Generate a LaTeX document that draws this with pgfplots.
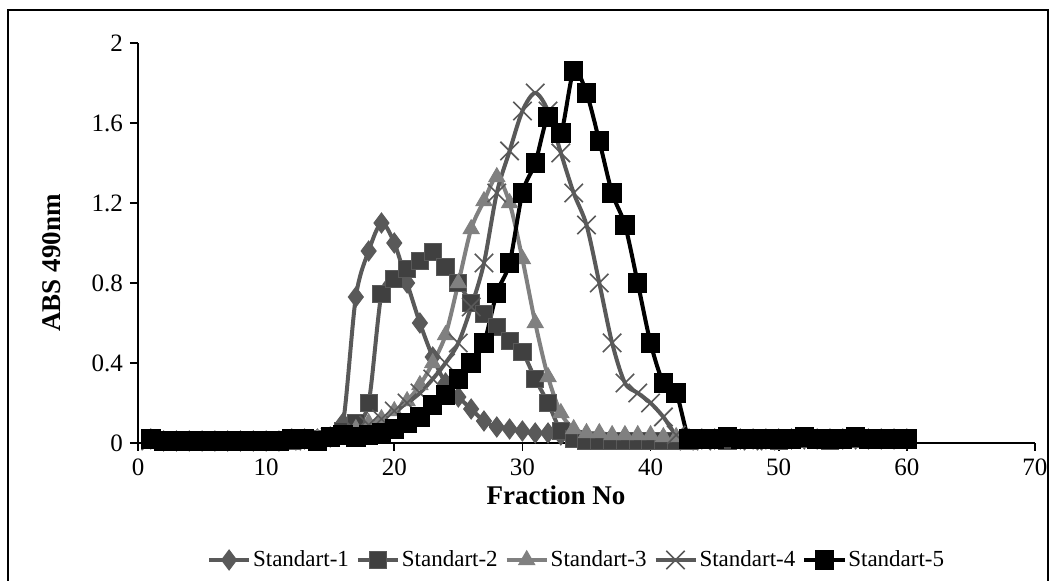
\documentclass[border=0pt]{standalone}
\usepackage{fontspec}
\setmainfont{Liberation Serif}
\usepackage{pgfplots}
\usepackage{pgfplotstable}
\pgfplotsset{compat=1.18}

\definecolor{dgray}{HTML}{595959}
\definecolor{sqgray}{HTML}{404040}
\definecolor{lgray}{HTML}{808080}

% n = fraction number
\pgfplotstableread{
n  s1   s2    s3   s4   s5
1  0.02 0.02  0.01 0.01 0.02
2  0.01 0.01  0.01 0.01 0.01
3  0.01 0.01  0.01 0.01 0.01
4  0.01 0.01  0.01 0.01 0.01
5  0.01 0.01  0.01 0.01 0.01
6  0.01 0.01  0.01 0.01 0.01
7  0.01 0.01  0.01 0.01 0.01
8  0.01 0.01  0.01 0.01 0.01
9  0.01 0.01  0.01 0.01 0.01
10 0.01 0.01  0.01 0.01 0.01
11 0.01 0.01  0.01 0.01 0.01
12 0.02 0.01  0.01 0.01 0.02
13 0.02 0.02  0.01 0.01 0.02
14 0.02 0.02  0.02 0.02 0.01
15 0.03 0.03  0.03 0.03 0.03
16 0.10 0.06  0.04 0.04 0.04
17 0.73 0.10  0.07 0.06 0.03
18 0.96 0.20  0.10 0.09 0.04
19 1.10 0.745 0.12 0.12 0.05
20 1.00 0.82  0.16 0.16 0.07
21 0.80 0.87  0.21 0.20 0.10
22 0.60 0.91  0.29 0.25 0.13
23 0.43 0.955 0.40 0.32 0.19
24 0.30 0.88  0.54 0.40 0.24
25 0.23 0.80  0.80 0.50 0.32
26 0.17 0.70  1.07 0.68 0.40
27 0.11 0.645 1.21 0.90 0.50
28 0.08 0.58  1.33 1.25 0.75
29 0.07 0.51  1.20 1.46 0.90
30 0.06 0.455 0.92 1.66 1.25
31 0.05 0.32  0.60 1.75 1.40
32 0.05 0.20  0.33 1.66 1.63
33 0.04 0.06  0.15 1.45 1.55
34 0.04 0.02  0.07 1.25 1.86
35 0.03 0.01  0.05 1.09 1.75
36 0.03 0.01  0.05 0.80 1.51
37 0.02 0.01  0.04 0.50 1.25
38 0.02 0.01  0.04 0.30 1.09
39 0.02 0.01  0.04 0.25 0.80
40 0.02 0.01  0.04 0.20 0.50
41 0.02 0.01  0.03 0.13 0.30
42 0.02 0.01  0.03 0.04 0.25
43 0.02 0.01  0.02 0.01 0.02
44 0.02 0.02  0.02 0.01 0.02
45 0.02 0.02  0.02 0.02 0.02
46 0.02 0.01  0.02 0.02 0.03
47 0.02 0.02  0.02 0.02 0.02
48 0.02 0.02  0.02 0.01 0.02
49 0.02 0.02  0.02 0.01 0.02
50 0.02 0.01  0.02 0.02 0.02
51 0.02 0.02  0.02 0.02 0.02
52 0.02 0.02  0.02 0.02 0.03
53 0.02 0.02  0.02 0.02 0.02
54 0.02 0.01  0.02 0.02 0.02
55 0.02 0.02  0.02 0.02 0.02
56 0.02 0.02  0.02 0.02 0.03
57 0.02 0.02  0.02 0.02 0.02
58 0.02 0.02  0.02 0.02 0.02
59 0.02 0.02  0.02 0.02 0.02
60 0.02 0.02  0.02 0.02 0.02
}\fractions

\begin{document}
\begin{tikzpicture}
% page = 1055 x 581 px at 0.5pt per px, axis origin at px (138,443)
\useasboundingbox (-69pt,-69pt) rectangle (458.5pt,221.5pt);
\draw[line width=0.8pt] (-65pt,-80pt) rectangle (455pt,216.5pt);
\begin{axis}[
    at={(0pt,0pt)}, anchor=origin,
    scale only axis,
    width=448.5pt, height=200pt,
    xmin=0, xmax=70, ymin=0, ymax=2,
    axis x line*=bottom, axis y line*=left,
    axis line style={line width=0.8pt},
    xtick={0,10,...,70},
    ytick={0,0.4,0.8,1.2,1.6,2},
    tick align=outside,
    major tick length=4pt,
    tick style={line width=0.8pt, black},
    ticklabel style={font=\fontsize{12.5}{14}\selectfont},
    /pgf/number format/assume math mode=true,
    xticklabel style={yshift=-3pt, inner sep=0.5pt},
    yticklabel style={/pgf/number format/fixed, /pgf/number format/precision=1},
    xlabel={\textbf{Fraction No}},
    ylabel={\textbf{ABS 490nm}},
    label style={font=\fontsize{13.5}{15}\selectfont},
    x label style={at={(axis description cs:0.466,-0.13)}, anchor=center, inner sep=0pt},
    y label style={at={(axis description cs:-0.096,0.45)}, anchor=center, rotate=0},
    legend style={at={(axis description cs:0.489,-0.2925)}, anchor=center,
        legend columns=-1, draw=none, fill=none,
        font=\fontsize{11.5}{14}\selectfont,
        nodes={inner sep=1pt},
        /tikz/every even column/.append style={column sep=2.5pt}},
    legend image code/.code={
        \draw[mark repeat=2,mark phase=2] plot coordinates {(0pt,0pt)(10pt,0pt)(20pt,0pt)};},
    every axis plot/.append style={line width=2pt, smooth, tension=0.5},
]
\addplot[dgray, mark=diamond*, mark size=5pt,
    mark options={fill=dgray, draw=dgray, line width=0.5pt}]
    table[x=n, y=s1] {\fractions};
\addplot[dgray, mark=square*, mark size=4.3pt,
    mark options={fill=sqgray, draw=dgray, line width=0.5pt}]
    table[x=n, y=s2] {\fractions};
\addplot[lgray, mark=triangle*, mark size=4.6pt,
    mark options={fill=lgray, draw=lgray, line width=0.5pt}]
    table[x=n, y=s3] {\fractions};
\addplot[dgray, mark=x, mark size=6.5pt,
    mark options={draw=dgray, line width=0.8pt}]
    table[x=n, y=s4] {\fractions};
\addplot[black, mark=square*, mark size=4.6pt,
    mark options={fill=black, draw=black, line width=0.5pt}]
    table[x=n, y=s5] {\fractions};
\legend{Standart-1, Standart-2, Standart-3, Standart-4, Standart-5}
\end{axis}
\end{tikzpicture}
\end{document}
